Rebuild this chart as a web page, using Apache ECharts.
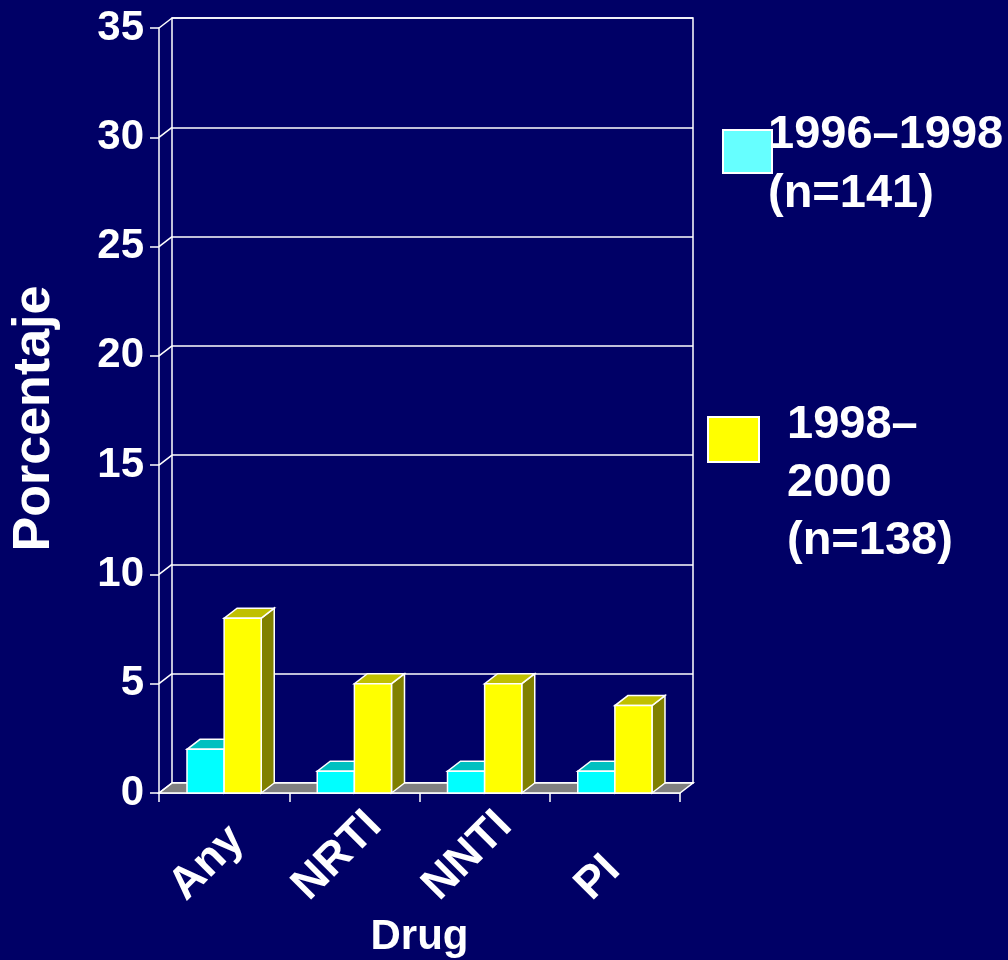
<!DOCTYPE html>
<html>
<head>
<meta charset="utf-8">
<title>Porcentaje por fármaco</title>
<script src="https://cdn.jsdelivr.net/npm/echarts@6/dist/echarts.min.js"></script>
<style>
  html, body { margin: 0; padding: 0; background: #000066; }
  #chart { width: 1008px; height: 960px; }
</style>
</head>
<body>
<div id="chart"></div>
<script>
// ---- data ----
const categories = ['Any', 'NRTI', 'NNTI', 'PI'];
const seriesNames = ['1996–1998\n(n=141)', '1998–\n2000\n(n=138)'];
const values9698 = [2, 1, 1, 1];
const values9800 = [8, 5, 5, 4];
const yTickValues = [0, 5, 10, 15, 20, 25, 30, 35];

// ---- style ----
const BG = '#000066';
const FONT = '"Liberation Sans", Arial, sans-serif';
const DX = 13, DY = -10;          // depth offset of the 3D box
const BAR_RATIO = 0.285;          // bar width as share of a category band
const LINE = '#ffffff';
const FRONT = { left: 159, top: 28, width: 521, height: 765 };

const measureCtx = document.createElement('canvas').getContext('2d');
function textWidth(str, size) {
  measureCtx.font = 'bold ' + size + 'px ' + FONT;
  return measureCtx.measureText(str).width;
}

function boxBar(seriesIndex, frontColor, topColor, sideColor) {
  return function (params, api) {
    const ci = api.value(0), v = api.value(1);
    const base = api.coord([ci, 0]);
    const top = api.coord([ci, v]);
    const w = api.size([1, 0])[0] * BAR_RATIO;
    const x0 = base[0] + (seriesIndex === 0 ? -w : 0);
    const x1 = x0 + w;
    const yb = base[1], yt = top[1];
    const stroke = { stroke: LINE, lineWidth: 1.5, lineJoin: 'miter' };
    return {
      type: 'group',
      children: [
        { type: 'polygon', shape: { points: [[x1, yb], [x1 + DX, yb + DY], [x1 + DX, yt + DY], [x1, yt]] },
          style: Object.assign({ fill: sideColor }, stroke) },
        { type: 'polygon', shape: { points: [[x0, yt], [x1, yt], [x1 + DX, yt + DY], [x0 + DX, yt + DY]] },
          style: Object.assign({ fill: topColor }, stroke) },
        { type: 'polygon', shape: { points: [[x0, yb], [x1, yb], [x1, yt], [x0, yt]] },
          style: Object.assign({ fill: frontColor }, stroke) }
      ]
    };
  };
}

const chart = echarts.init(document.getElementById('chart'), null, { renderer: 'canvas' });

const option = {
  backgroundColor: BG,
  animation: false,
  grid: [
    // front plane: axes, floor front edge, bars
    { left: FRONT.left, top: FRONT.top, width: FRONT.width, height: FRONT.height,
      outerBoundsMode: 'none', containLabel: false },
    // back wall, shifted by the depth offset
    { left: FRONT.left + DX, top: FRONT.top + DY, width: FRONT.width, height: FRONT.height,
      outerBoundsMode: 'none', containLabel: false,
      show: true, borderColor: LINE, borderWidth: 1.5, backgroundColor: 'transparent' }
  ],
  xAxis: [
    {
      gridIndex: 0, type: 'category', data: categories,
      axisLine: { show: true, lineStyle: { color: LINE, width: 1.5 } },
      axisTick: { show: true, length: 9, lineStyle: { color: LINE, width: 1.5 } },
      axisLabel: { show: false },
      splitLine: { show: false },
      name: 'Drug', nameLocation: 'middle', nameGap: 123,
      nameTextStyle: { color: '#fff', fontSize: 42, fontWeight: 'bold', fontFamily: FONT, lineHeight: 42 }
    },
    { gridIndex: 1, type: 'category', data: categories, show: false }
  ],
  yAxis: [
    {
      gridIndex: 0, type: 'value', min: 0, max: 35, interval: 5,
      axisLine: { show: true, lineStyle: { color: LINE, width: 1.5 } },
      axisTick: { show: true, length: 9, lineStyle: { color: LINE, width: 1.5 } },
      axisLabel: { color: '#fff', fontSize: 42, fontWeight: 'bold', fontFamily: FONT, margin: 15 },
      splitLine: { show: false },
      name: 'Porcentaje', nameLocation: 'middle', nameGap: 98,
      nameTextStyle: { color: '#fff', fontSize: 52, fontWeight: 'bold', fontFamily: FONT, padding: [0, 16, 0, 0] }
    },
    {
      gridIndex: 1, type: 'value', min: 0, max: 35, interval: 5,
      axisLine: { show: false }, axisTick: { show: false }, axisLabel: { show: false },
      splitLine: { show: true, lineStyle: { color: LINE, width: 1.5 } }
    }
  ],
  series: [
    // floor of the box
    {
      type: 'custom', xAxisIndex: 0, yAxisIndex: 0, z: 2, silent: true,
      data: [[0, 0]],
      renderItem: function (params, api) {
        const cs = params.coordSys;
        const yb = api.coord([0, 0])[1];
        const xa = cs.x, xb = cs.x + cs.width;
        return {
          type: 'polygon',
          shape: { points: [[xa, yb], [xb, yb], [xb + DX, yb + DY], [xa + DX, yb + DY]] },
          style: { fill: '#808080', stroke: LINE, lineWidth: 1.5 }
        };
      }
    },
    // links between the front value axis and the back wall at each tick
    {
      type: 'custom', xAxisIndex: 0, yAxisIndex: 0, z: 2, silent: true,
      data: yTickValues.map(v => [0, v]),
      renderItem: function (params, api) {
        const x = params.coordSys.x;
        const y = api.coord([0, api.value(1)])[1];
        return {
          type: 'line',
          shape: { x1: x, y1: y, x2: x + DX, y2: y + DY },
          style: { stroke: LINE, lineWidth: 1.5 }
        };
      }
    },
    {
      name: seriesNames[0], type: 'custom', xAxisIndex: 0, yAxisIndex: 0, z: 3,
      data: values9698.map((v, i) => [i, v]),
      renderItem: boxBar(0, '#00FFFF', '#00C0C0', '#008080')
    },
    {
      name: seriesNames[1], type: 'custom', xAxisIndex: 0, yAxisIndex: 0, z: 4,
      data: values9800.map((v, i) => [i, v]),
      renderItem: boxBar(1, '#FFFF00', '#C0C000', '#808000')
    },
    // slanted category labels
    {
      type: 'custom', xAxisIndex: 0, yAxisIndex: 0, z: 5, silent: true,
      data: categories.map((c, i) => [i, 0]),
      renderItem: function (params, api) {
        const i = api.value(0);
        const p = api.coord([i, 0]);
        const label = categories[i];
        const size = 45;
        const half = textWidth(label, size) * Math.SQRT1_2 / 2;
        return {
          type: 'text',
          x: p[0] - 1 - half,
          y: p[1] + 116,
          rotation: Math.PI / 4,
          style: {
            text: label, x: 0, y: 0, align: 'left', verticalAlign: 'bottom',
            fill: '#fff', fontSize: size, fontWeight: 'bold', fontFamily: FONT
          }
        };
      }
    }
  ],
  graphic: [
    { type: 'rect', left: 722, top: 129, shape: { width: 49, height: 43 },
      style: { fill: '#66FFFF', stroke: '#fff', lineWidth: 2 } },
    { type: 'text', x: 768, y: 165,
      style: { text: seriesNames[0], align: 'left', verticalAlign: 'middle', lineHeight: 59,
        fill: '#fff', fontSize: 47, fontWeight: 'bold', fontFamily: FONT,
        textShadowColor: '#000000', textShadowOffsetX: 3, textShadowOffsetY: 3, textShadowBlur: 0 } },
    { type: 'rect', left: 707, top: 416, shape: { width: 51, height: 45 },
      style: { fill: '#FFFF00', stroke: '#fff', lineWidth: 2 } },
    { type: 'text', x: 787, y: 483,
      style: { text: seriesNames[1], align: 'left', verticalAlign: 'middle', lineHeight: 58,
        fill: '#fff', fontSize: 47, fontWeight: 'bold', fontFamily: FONT,
        textShadowColor: '#000000', textShadowOffsetX: 3, textShadowOffsetY: 3, textShadowBlur: 0 } }
  ]
};

chart.setOption(option);
</script>
</body>
</html>
